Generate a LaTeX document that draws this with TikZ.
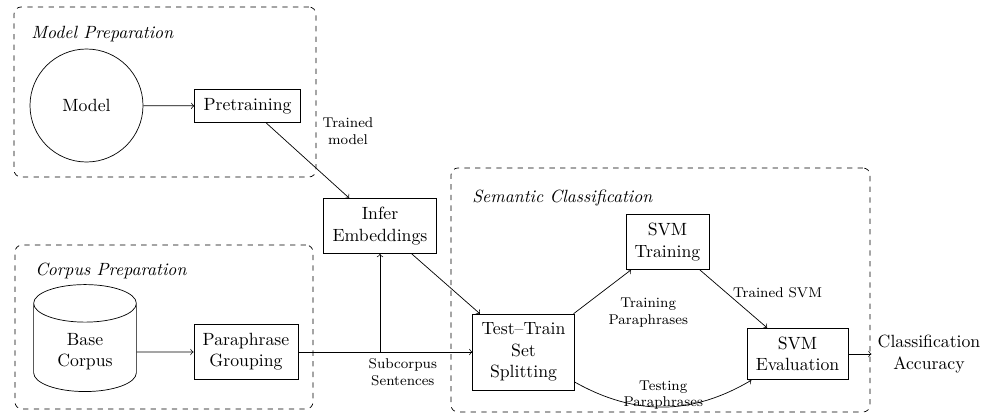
\documentclass[tikz,border=0pt]{standalone}
\usetikzlibrary{shapes.geometric}
\begin{document}
\begin{tikzpicture}[x=0.5646pt,y=-0.5646pt,
  proc/.style={draw, rectangle, inner sep=5pt, align=center},
  grp/.style={draw, dashed, rounded corners=4pt, inner sep=0pt},
  grouptitle/.style={anchor=west, font=\itshape},
  lbl/.style={font=\footnotesize, align=center},
  flow/.style={->}]
\useasboundingbox (0,0) rectangle (992,416);
% groups
\node[grp, minimum width=170.5pt, minimum height=96pt] (modelprep) at (165,92) {};
\node[grp, minimum width=168.3pt, minimum height=92.6pt] (corpusprep) at (164,327) {};
\node[grp, minimum width=236.6pt, minimum height=137.8pt] (semprep) at (660.5,290) {};
\node[grouptitle] (t1) at (25,34) {Model Preparation};
\node[grouptitle] (t2) at (29,271) {Corpus Preparation};
\node[grouptitle] (t3) at (466,198) {Semantic Classification};
% nodes
\node[draw, circle, minimum size=63.8pt] (model) at (86.5,105.5) {Model};
\node[proc] (pre) at (247.5,106) {Pretraining};
\node[proc] (infer) at (380,226) {Infer\\Embeddings};
\node[draw, cylinder, shape border rotate=90, aspect=0.56, minimum width=58pt, minimum height=60.4pt, align=center] (base) at (85,352) {Base\\Corpus};
\node[proc] (grouping) at (246,352) {Paraphrase\\Grouping};
\node[proc] (split) at (523.5,352) {Test--Train\\Set\\Splitting};
\node[proc] (svmtrain) at (667.5,242) {SVM\\Training};
\node[proc] (svmeval) at (797.5,354) {SVM\\Evaluation};
\node[align=center] (acc) at (929,354) {Classification\\Accuracy};
% edges
\draw[flow] (model) -- (pre);
\draw[flow] (pre) -- (infer);
\node[lbl] (tm) at (348,131) {Trained\\model};
\draw[flow] (base) -- (grouping);
\draw[flow] (grouping) -| (infer);
\draw[flow] (grouping) -- node[lbl, pos=0.6, below] {Subcorpus\\Sentences} (split);
\draw[flow] (infer) -- (split);
\draw[flow] (split) -- node[lbl, below right] {Training\\Paraphrases} (svmtrain);
\draw[flow] (svmtrain) -- node[lbl, pos=0.4, right] {Trained SVM} (svmeval);
\draw[flow] (split) to[bend right] node[lbl, midway, above=-5pt] {Testing\\Paraphrases} (svmeval);
\draw[flow] (svmeval) -- (acc);
\end{tikzpicture}
\end{document}
